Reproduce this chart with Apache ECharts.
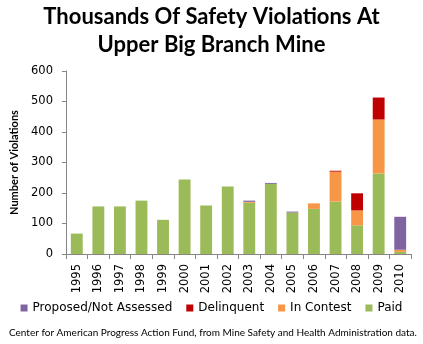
<!DOCTYPE html>
<html><head><meta charset="utf-8">
<script src="https://cdn.jsdelivr.net/npm/echarts@6/dist/echarts.min.js"></script>
<style>html,body{margin:0;padding:0;background:#fff}#c{width:423px;height:344px}</style>
</head><body><div id="c"></div>
<script>
var years = ['1995','1996','1997','1998','1999','2000','2001','2002','2003','2004','2005','2006','2007','2008','2009','2010'];
var paid = [67,156,156,175,112,244,159,221,168,230,136,148,172,94,264,7];
var inContest = [0,0,0,0,0,0,0,0,3,0,0,18,98,49,177,7];
var delinquent = [0,0,0,0,0,0,0,0,0,0,0,0,3,56,72,0];
var proposed = [0,0,0,0,0,0,0,0,4,3,3,0,0,0,0,108];
var yTicks = [0,100,200,300,400,500,600];

var chart = echarts.init(document.getElementById('c'));
var tickFont = 'DejaVu Sans';
function ser(name, data, color){
  return {name:name, type:'bar', stack:'s', data:data, barWidth:'55%', itemStyle:{color:color}};
}
chart.setOption({
  animation:false,
  title:[{
    text:'Thousands Of Safety Violations At\nUpper Big Branch Mine',
    left:'center', top:-2,
    textStyle:{fontFamily:'Lato', fontWeight:'bold', fontSize:22, lineHeight:28, color:'#000'}
  },{
    text:'Center for American Progress Action Fund, from Mine Safety and Health Administration data.',
    left:4, top:323,
    textStyle:{fontFamily:'Lato', fontWeight:'normal', fontSize:10, color:'#000'}
  }],
  legend:{
    data:['Proposed/Not Assessed','Delinquent','In Contest','Paid'],
    bottom:25, left:'center', icon:'rect', itemWidth:7, itemHeight:7, itemGap:14,
    textStyle:{fontFamily:tickFont, fontSize:12, color:'#000'}
  },
  grid:{left:66, right:12, top:71, bottom:90},
  xAxis:{
    type:'category', data:years,
    axisLine:{lineStyle:{color:'#868686', width:1}},
    axisTick:{show:true, length:5, lineStyle:{color:'#868686'}},
    axisLabel:{rotate:90, fontFamily:tickFont, fontSize:11.5, color:'#000', margin:10}
  },
  yAxis:{
    type:'value', min:0, max:600, interval:100,
    name:'Number of Violations', nameLocation:'middle', nameGap:45, nameRotate:90,
    nameTextStyle:{fontFamily:'Lato', fontWeight:'bold', fontSize:11, color:'#000'},
    axisLine:{show:true, lineStyle:{color:'#868686', width:1}},
    axisTick:{show:true, length:4, lineStyle:{color:'#868686'}},
    splitLine:{show:false},
    axisLabel:{fontFamily:tickFont, fontSize:11.5, color:'#000', margin:13,
      formatter:function(v){return yTicks.indexOf(v)>=0?String(v):'';}}
  },
  series:[
    ser('Paid', paid, '#9BBB59'),
    ser('In Contest', inContest, '#F79646'),
    ser('Delinquent', delinquent, '#C00000'),
    ser('Proposed/Not Assessed', proposed, '#8064A2')
  ]
});
</script></body></html>
